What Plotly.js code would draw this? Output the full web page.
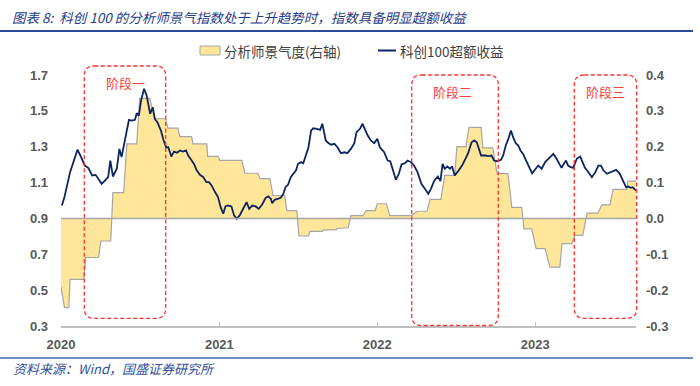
<!DOCTYPE html>
<html>
<head>
<meta charset="utf-8">
<script src="https://cdn.plot.ly/plotly-3.0.1.min.js"></script>
<style>html,body{margin:0;padding:0;background:#fff;}#chart{width:700px;height:386px;}</style>
</head>
<body>
<div id="chart"></div>
<script>
// ---------- data ----------
const titleText = '图表 8:  科创 100 的分析师景气指数处于上升趋势时，指数具备明显超额收益';
const sourceText = '资料来源：Wind，国盛证券研究所';
const seriesNames = ['分析师景气度(右轴)', '科创100超额收益'];
const phaseLabels = ['阶段一', '阶段二', '阶段三'];

const yearTicks = ['2020-01-01', '2021-01-01', '2022-01-01', '2023-01-01'];
const yearLabels = ['2020', '2021', '2022', '2023'];

const leftTicks = [0.3, 0.5, 0.7, 0.9, 1.1, 1.3, 1.5, 1.7];
const leftLabels = ['0.3', '0.5', '0.7', '0.9', '1.1', '1.3', '1.5', '1.7'];
const rightTicks = [-0.3, -0.2, -0.1, 0.0, 0.1, 0.2, 0.3, 0.4];
const rightLabels = ['-0.3', '-0.2', '-0.1', '0.0', '0.1', '0.2', '0.3', '0.4'];

// 分析师景气度 (right axis)
const sentDates = [
'2020-01-01','2020-01-09','2020-01-19','2020-01-22','2020-02-23','2020-02-27','2020-03-28','2020-04-02','2020-04-25','2020-04-30',
'2020-05-25','2020-06-01','2020-06-24','2020-07-01','2020-07-24','2020-08-05','2020-08-30','2020-09-04','2020-09-27','2020-10-02',
'2020-10-29','2020-11-01','2020-12-03','2020-12-05','2020-12-29','2021-01-02','2021-02-22','2021-03-01','2021-03-31','2021-04-05',
'2021-04-28','2021-05-05','2021-06-01','2021-06-06','2021-06-29','2021-07-04','2021-07-26','2021-07-30','2021-08-27','2021-08-29',
'2021-09-28','2021-09-30','2021-10-26','2021-11-01','2021-11-29','2021-12-06','2021-12-27','2022-01-01','2022-01-22','2022-01-30',
'2022-03-22','2022-04-03','2022-04-26','2022-05-03','2022-05-28','2022-06-06','2022-06-29','2022-07-04','2022-07-25','2022-08-01',
'2022-08-29','2022-09-02','2022-09-25','2022-10-05','2022-10-30','2022-11-08','2022-12-01','2022-12-06','2022-12-24','2023-01-03',
'2023-01-24','2023-02-04','2023-02-27','2023-03-04','2023-03-27','2023-04-03','2023-04-21','2023-05-01','2023-05-26','2023-06-04',
'2023-06-23','2023-06-30','2023-08-01','2023-08-03','2023-08-22'];
const sentValues = [
-0.191,-0.249,-0.249,-0.170,-0.170,-0.109,-0.109,-0.063,-0.063,0.072,
0.072,0.208,0.208,0.335,0.335,0.278,0.278,0.252,0.252,0.228,
0.228,0.208,0.208,0.173,0.173,0.162,0.162,0.126,0.126,0.111,
0.111,0.064,0.064,0.022,0.022,-0.049,-0.049,-0.036,-0.036,-0.032,
-0.032,-0.028,-0.026,0.008,0.008,0.022,0.022,0.041,0.041,0.008,
0.008,0.020,0.020,0.053,0.053,0.120,0.120,0.200,0.200,0.254,
0.254,0.197,0.197,0.125,0.125,0.031,0.031,-0.029,-0.029,-0.084,
-0.084,-0.136,-0.136,-0.070,-0.070,-0.047,-0.047,0.015,0.015,0.038,
0.038,0.081,0.081,0.104,0.104];

// 科创100超额收益 (left axis)
const exDates = [
'2020-01-03','2020-01-09','2020-01-22','2020-02-01','2020-02-08','2020-02-16','2020-02-25','2020-03-04','2020-03-13','2020-03-21',
'2020-03-27','2020-04-04','2020-04-12','2020-04-19','2020-04-24','2020-04-30','2020-05-09','2020-05-15','2020-05-20','2020-05-26',
'2020-06-01','2020-06-06','2020-06-12','2020-06-20','2020-06-24','2020-06-29','2020-07-04','2020-07-11','2020-07-17','2020-07-25',
'2020-07-31','2020-08-05','2020-08-11','2020-08-19','2020-08-24','2020-08-31','2020-09-05','2020-09-12','2020-09-18','2020-09-25',
'2020-10-02','2020-10-09','2020-10-16','2020-10-21','2020-10-29','2020-11-04','2020-11-09','2020-11-17','2020-11-25','2020-12-02',
'2020-12-08','2020-12-14','2020-12-22','2020-12-29','2021-01-04','2021-01-10','2021-01-15','2021-01-21','2021-01-29','2021-02-04',
'2021-02-10','2021-02-17','2021-02-25','2021-03-05','2021-03-11','2021-03-18','2021-03-26','2021-04-02','2021-04-10','2021-04-18',
'2021-04-24','2021-04-30','2021-05-03','2021-05-09','2021-05-17','2021-05-23','2021-05-29','2021-06-03','2021-06-09','2021-06-15',
'2021-06-22','2021-06-27','2021-07-02','2021-07-09','2021-07-14','2021-07-19','2021-07-26','2021-08-01','2021-08-06','2021-08-14',
'2021-08-22','2021-08-27','2021-09-01','2021-09-04','2021-09-10','2021-09-16','2021-09-24','2021-10-01','2021-10-09','2021-10-17',
'2021-10-24','2021-11-01','2021-11-09','2021-11-14','2021-11-22','2021-11-28','2021-12-03','2021-12-10','2021-12-17','2021-12-25',
'2022-01-01','2022-01-07','2022-01-17','2022-01-25','2022-01-31','2022-02-05','2022-02-13','2022-02-20','2022-02-26','2022-03-06',
'2022-03-12','2022-03-20','2022-03-27','2022-04-04','2022-04-13','2022-04-21','2022-04-29','2022-05-05','2022-05-13','2022-05-21',
'2022-05-27','2022-06-01','2022-06-06','2022-06-12','2022-06-18','2022-06-23','2022-06-29','2022-07-07','2022-07-16','2022-07-24',
'2022-07-30','2022-08-07','2022-08-13','2022-08-19','2022-08-24','2022-08-29','2022-09-07','2022-09-15','2022-09-22','2022-09-28',
'2022-10-05','2022-10-14','2022-10-19','2022-10-25','2022-10-31','2022-11-06','2022-11-11','2022-11-17','2022-11-23','2022-11-28',
'2022-12-04','2022-12-12','2022-12-20','2022-12-25','2023-01-01','2023-01-08','2023-01-16','2023-01-24','2023-02-01','2023-02-06',
'2023-02-12','2023-02-18','2023-02-23','2023-03-03','2023-03-07','2023-03-13','2023-03-18','2023-03-24','2023-03-30','2023-04-07',
'2023-04-15','2023-04-21','2023-04-26','2023-05-04','2023-05-12','2023-05-20','2023-05-27','2023-06-02','2023-06-08','2023-06-16',
'2023-06-24','2023-07-01','2023-07-07','2023-07-15','2023-07-23','2023-07-30','2023-08-04','2023-08-10','2023-08-14','2023-08-22'];
const exValues = [
0.972,1.019,1.158,1.233,1.283,1.245,1.195,1.182,1.140,1.143,
1.121,1.093,1.112,1.130,1.223,1.134,1.177,1.288,1.242,1.316,
1.381,1.450,1.446,1.450,1.487,1.474,1.557,1.623,1.585,1.483,
1.520,1.455,1.436,1.390,1.344,1.297,1.297,1.245,1.273,1.266,
1.279,1.273,1.279,1.251,1.223,1.201,1.171,1.143,1.130,1.102,
1.102,1.084,1.047,1.019,0.963,0.926,0.967,0.972,0.967,0.917,
0.898,0.917,0.954,0.991,0.954,0.972,0.967,0.954,0.978,1.015,
1.023,1.010,0.985,1.004,1.010,1.015,1.038,1.074,1.089,1.130,
1.152,1.167,1.205,1.214,1.208,1.242,1.297,1.390,1.403,1.400,
1.394,1.428,1.372,1.335,1.320,1.311,1.316,1.297,1.264,1.269,
1.264,1.288,1.320,1.381,1.400,1.428,1.400,1.362,1.335,1.320,
1.344,1.297,1.269,1.223,1.219,1.182,1.116,1.149,1.201,1.208,
1.223,1.214,1.195,1.158,1.093,1.065,1.038,1.065,1.112,1.134,
1.108,1.205,1.177,1.190,1.177,1.190,1.140,1.164,1.195,1.233,
1.264,1.325,1.335,1.325,1.288,1.251,1.251,1.248,1.251,1.223,
1.219,1.227,1.251,1.307,1.344,1.390,1.353,1.320,1.307,1.279,
1.260,1.214,1.177,1.152,1.177,1.195,1.177,1.214,1.233,1.245,
1.260,1.238,1.214,1.182,1.200,1.223,1.195,1.186,1.182,1.233,
1.245,1.214,1.182,1.158,1.130,1.158,1.195,1.195,1.167,1.149,
1.158,1.167,1.171,1.152,1.112,1.074,1.078,1.071,1.074,1.056];

// ---------- layout helpers (pixel -> paper) ----------
const ML = 61, MR = 64, MT = 75, MB = 60, W = 700, H = 386;
const PW = W - ML - MR, PH = H - MT - MB;
const PX = v => (v - ML) / PW;
const PY = v => (H - MB - v) / PH;

function roundRect(x0, x1, yt, yb, r) {
  const a = PX(x0), b = PX(x1), t = PY(yt), u = PY(yb);
  const rx = r / PW, ry = r / PH;
  return `M${a+rx},${t} L${b-rx},${t} Q${b},${t} ${b},${t-ry} L${b},${u+ry} Q${b},${u} ${b-rx},${u} ` +
         `L${a+rx},${u} Q${a},${u} ${a},${u+ry} L${a},${t-ry} Q${a},${t} ${a+rx},${t} Z`;
}

const tickFont = {family: 'Liberation Sans, Arial, sans-serif', size: 13, color: '#595959', weight: 'bold'};
const cjk = 'Noto Sans CJK SC, sans-serif';
const redDash = {color: '#FF3030', width: 1.3, dash: '4px,2.5px'};
const yellow = '#FFE699', areaEdge = '#A6A6A6', navy = '#0E2460';

const traces = [
  {
    x: sentDates, y: sentValues, yaxis: 'y', xaxis: 'x',
    type: 'scatter', mode: 'lines', fill: 'tozeroy',
    fillcolor: yellow, line: {color: areaEdge, width: 1.2},
    name: seriesNames[0], hoverinfo: 'skip'
  },
  {
    x: exDates, y: exValues, yaxis: 'y2', xaxis: 'x',
    type: 'scatter', mode: 'lines',
    line: {color: navy, width: 1.8},
    name: seriesNames[1], hoverinfo: 'skip'
  }
];

const shapes = [
  // zero line of right axis
  {type: 'line', xref: 'paper', x0: 0, x1: 1, yref: 'y', y0: 0, y1: 0,
   line: {color: areaEdge, width: 1.5}, layer: 'above'},
  // header and footer rules
  {type: 'line', xref: 'paper', yref: 'paper', x0: PX(0), x1: PX(693), y0: PY(31), y1: PY(31),
   line: {color: '#2B4C9B', width: 2}},
  {type: 'line', xref: 'paper', yref: 'paper', x0: PX(0), x1: PX(693), y0: PY(358), y1: PY(358),
   line: {color: '#3A66B5', width: 1.5}},
  // legend symbols
  {type: 'rect', xref: 'paper', yref: 'paper', x0: PX(200), x1: PX(220), y0: PY(55), y1: PY(46),
   fillcolor: yellow, line: {color: areaEdge, width: 1}},
  {type: 'line', xref: 'paper', yref: 'paper', x0: PX(378), x1: PX(396), y0: PY(50.5), y1: PY(50.5),
   line: {color: navy, width: 2}},
  // phase boxes
  {type: 'path', xref: 'paper', yref: 'paper', path: roundRect(84.3, 165.7, 66, 318.3, 10), line: redDash, layer: 'above'},
  {type: 'path', xref: 'paper', yref: 'paper', path: roundRect(411.7, 498.3, 75, 325.5, 10), line: redDash, layer: 'above'},
  {type: 'path', xref: 'paper', yref: 'paper', path: roundRect(574.3, 636.7, 75, 318.3, 10), line: redDash, layer: 'above'}
];

const annotations = [
  {xref: 'paper', yref: 'paper', x: PX(10), y: PY(17), xanchor: 'left', yanchor: 'middle', showarrow: false,
   text: titleText, font: {family: cjk, size: 13.5, color: '#1F3C88', style: 'italic'}},
  {xref: 'paper', yref: 'paper', x: PX(11), y: PY(368), xanchor: 'left', yanchor: 'middle', showarrow: false,
   text: sourceText, font: {family: cjk, size: 13, color: '#2F4FA0', style: 'italic'}},
  {xref: 'paper', yref: 'paper', x: PX(222), y: PY(50.5), xanchor: 'left', yanchor: 'middle', showarrow: false,
   text: seriesNames[0], font: {family: cjk, size: 13.5, color: '#404040'}},
  {xref: 'paper', yref: 'paper', x: PX(398), y: PY(50.5), xanchor: 'left', yanchor: 'middle', showarrow: false,
   text: seriesNames[1], font: {family: cjk, size: 13.5, color: '#404040'}},
  {xref: 'paper', yref: 'paper', x: PX(125), y: PY(82.7), xanchor: 'center', yanchor: 'middle', showarrow: false,
   text: phaseLabels[0], font: {family: cjk, size: 13, color: '#FF3B3B'}},
  {xref: 'paper', yref: 'paper', x: PX(452.7), y: PY(91.7), xanchor: 'center', yanchor: 'middle', showarrow: false,
   text: phaseLabels[1], font: {family: cjk, size: 13, color: '#FF3B3B'}},
  {xref: 'paper', yref: 'paper', x: PX(605), y: PY(91), xanchor: 'center', yanchor: 'middle', showarrow: false,
   text: phaseLabels[2], font: {family: cjk, size: 13, color: '#FF3B3B'}}
];

const layout = {
  width: W, height: H,
  margin: {l: ML, r: MR, t: MT, b: MB, pad: 0},
  paper_bgcolor: '#ffffff', plot_bgcolor: '#ffffff',
  showlegend: false,
  xaxis: {
    type: 'date', range: ['2020-01-01', '2023-08-22'],
    tickmode: 'array', tickvals: yearTicks, ticktext: yearLabels,
    showline: true, linecolor: '#BFBFBF', linewidth: 1.5,
    ticks: 'inside', ticklen: 4, tickwidth: 1, tickcolor: '#BFBFBF',
    showgrid: false, zeroline: false, tickfont: tickFont, ticklabelstandoff: 6
  },
  yaxis: {
    range: [-0.3, 0.4], side: 'right', anchor: 'x',
    tickmode: 'array', tickvals: rightTicks, ticktext: rightLabels,
    showgrid: false, zeroline: false, showline: false, ticks: '',
    tickfont: tickFont, ticklabelstandoff: 9
  },
  yaxis2: {
    range: [0.3, 1.7], side: 'left', overlaying: 'y', anchor: 'x',
    tickmode: 'array', tickvals: leftTicks, ticktext: leftLabels,
    showgrid: false, zeroline: false, showline: false, ticks: '',
    tickfont: tickFont, ticklabelstandoff: 12
  },
  shapes: shapes,
  annotations: annotations
};

Plotly.newPlot('chart', traces, layout, {staticPlot: true, displayModeBar: false});
</script>
</body>
</html>
